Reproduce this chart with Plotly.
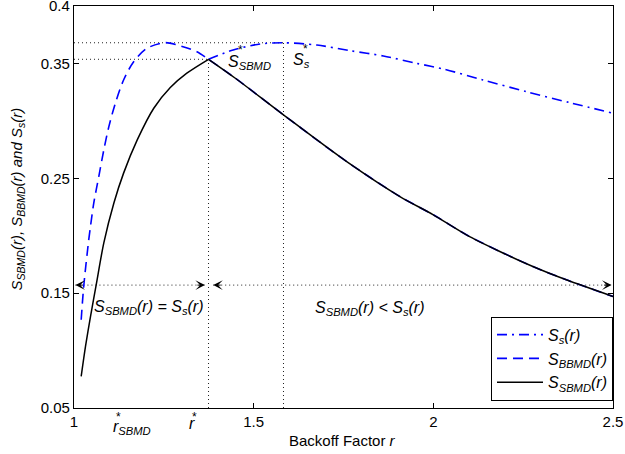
import plotly.graph_objects as go

# ---------------- data ----------------
r_sbmd = [1.020, 1.032, 1.046, 1.0625, 1.083, 1.111, 1.138, 1.176, 1.222, 1.268,
          1.314, 1.3744, 1.45, 1.583, 1.759, 1.907, 2.0, 2.092, 2.185, 2.277, 2.370, 2.5]
s_sbmd = [0.0775, 0.1036, 0.1297, 0.1585, 0.1938, 0.2285, 0.2545, 0.2834, 0.311, 0.3290,
          0.3415, 0.3536, 0.3369, 0.3052, 0.2645, 0.2341, 0.2182, 0.2008, 0.1863, 0.1732, 0.1616, 0.1471]

r_bbmd = [1.020, 1.027, 1.041, 1.0458, 1.055, 1.069, 1.083, 1.097, 1.115, 1.138,
          1.166, 1.203, 1.254, 1.287, 1.342, 1.3744]
s_bbmd = [0.1268, 0.1558, 0.1964, 0.208, 0.2284, 0.2515, 0.2747, 0.295, 0.3153, 0.3356,
          0.3515, 0.3632, 0.3681, 0.3661, 0.3602, 0.3536]

r_ss = [1.3744, 1.443, 1.518, 1.583, 1.676, 1.768, 1.861, 1.953, 2.03, 2.138, 2.259, 2.379, 2.5]
s_ss = [0.3536, 0.3617, 0.3669, 0.368, 0.366, 0.3611, 0.3565, 0.3501, 0.345, 0.3356, 0.3254, 0.3159, 0.3067]

x_ticks = [1, 1.5, 2, 2.5]
x_ticklabels = ["1", "1.5", "2", "2.5"]
y_ticks = [0.05, 0.15, 0.25, 0.35, 0.4]
y_ticklabels = ["0.05", "0.15", "0.25", "0.35", "0.4"]
x_range = [1, 2.5]
y_range = [0.05, 0.4]
arrow_level = 0.157

# derived key points
i_pk = s_sbmd.index(max(s_sbmd))
r_star, s_star = r_sbmd[i_pk], s_sbmd[i_pk]
j_pk = s_ss.index(max(s_ss))
r_ss_star, s_ss_star = r_ss[j_pk], s_ss[j_pk]

# BBMD coincides with SBMD beyond r*
r_bbmd_full = r_bbmd + r_sbmd[i_pk + 1:]
s_bbmd_full = s_bbmd + s_sbmd[i_pk + 1:]

# ---------------- layout geometry ----------------
W, H = 625, 454
L, R, T, B = 73.5, 11.5, 6, 45.7
PW, PH = W - L - R, H - T - B


def px(x):
    return (x - L) / PW


def py(y):
    return (H - B - y) / PH


FONT = "Liberation Sans, Arial, Helvetica, sans-serif"
BLUE = "#0000ff"

fig = go.Figure()
fig.add_trace(go.Scatter(x=r_ss, y=s_ss, mode="lines", name="<i>S<sub>s</sub>(r)</i>",
                         line=dict(color=BLUE, width=1.6, dash="10px,5px,2px,5px", shape="spline", smoothing=0.8),
                         legendgroup="a"))
fig.add_trace(go.Scatter(x=r_bbmd_full, y=s_bbmd_full, mode="lines",
                         name="<i>S<sub>BBMD</sub>(r)</i>",
                         line=dict(color=BLUE, width=1.6, dash="10px,6px", shape="spline", smoothing=0.8),
                         legendgroup="b"))
fig.add_trace(go.Scatter(x=r_sbmd[:i_pk + 1], y=s_sbmd[:i_pk + 1], mode="lines",
                         name="<i>S<sub>SBMD</sub>(r)</i>",
                         line=dict(color="black", width=1.5, shape="spline", smoothing=0.8), legendgroup="c"))
fig.add_trace(go.Scatter(x=r_sbmd[i_pk:], y=s_sbmd[i_pk:], mode="lines",
                         name="<i>S<sub>SBMD</sub>(r)</i>", showlegend=False,
                         line=dict(color="black", width=1.5, shape="spline", smoothing=0.8), legendgroup="c"))

dot = dict(color="#222", width=1, dash="1px,3px")
shapes = [
    dict(type="line", x0=x_range[0], x1=r_ss_star, y0=s_ss_star, y1=s_ss_star, line=dot, layer="below"),
    dict(type="line", x0=x_range[0], x1=r_star, y0=s_star, y1=s_star, line=dot, layer="below"),
    dict(type="line", x0=r_star, x1=r_star, y0=y_range[0], y1=s_star, line=dot, layer="below"),
    dict(type="line", x0=r_ss_star, x1=r_ss_star, y0=y_range[0], y1=s_ss_star, line=dot, layer="below"),
    dict(type="line", x0=1.004, x1=r_star - 0.01, y0=arrow_level, y1=arrow_level, line=dot, layer="below"),
    dict(type="line", x0=r_star + 0.013, x1=2.496, y0=arrow_level, y1=arrow_level, line=dot, layer="below"),
]

ann = []
# arrow heads
for tip, d in [(1.004, 1), (r_star - 0.01, -1), (r_star + 0.013, 1), (2.496, -1)]:
    ann.append(dict(x=tip, y=arrow_level, xref="x", yref="y", ax=9 * d, ay=0, text="",
                    showarrow=True, arrowhead=3, arrowsize=1.6, arrowwidth=1, arrowcolor="black"))

tf = dict(family=FONT, size=16, color="black")
sf = dict(family=FONT, size=12, color="black")


def txt(t, x, y, xa="left", ya="middle", font=tf, angle=0):
    ann.append(dict(text=t, x=px(x), y=py(y), xref="paper", yref="paper", xanchor=xa, yanchor=ya,
                    showarrow=False, font=font, textangle=angle))


txt("<i>S<sub>SBMD</sub></i>", 226, 63)
txt("*", 240, 50, xa="center", font=sf)
txt("<i>S<sub>s</sub></i>", 291, 61)
txt("*", 305, 49, xa="center", font=sf)
txt("<i>S<sub>SBMD</sub>(r) = S<sub>s</sub>(r)</i>", 148, 308, xa="center")
txt("<i>S<sub>SBMD</sub>(r) &lt; S<sub>s</sub>(r)</i>", 370, 309, xa="center")
txt("<i>r<sub>SBMD</sub></i>", 111, 428)
txt("*", 118, 417, xa="center", font=sf)
txt("<i>r</i>", 187, 424)
txt("*", 194, 417, xa="center", font=sf)
txt("Backoff Factor <i>r</i>", 342, 441, xa="center", font=dict(family=FONT, size=15, color="black"))
txt("<i>S<sub>SBMD</sub>(r), S<sub>BBMD</sub>(r) and S<sub>s</sub>(r)</i>", 17, 199, xa="center",
    font=dict(family=FONT, size=15, color="black"), angle=-90)

axis_common = dict(showline=True, linecolor="black", linewidth=1.2, mirror="ticks", ticks="inside",
                   ticklen=5, tickwidth=1, tickcolor="black", showgrid=False, zeroline=False,
                   ticklabeloverflow="allow", automargin=False,
                   tickfont=dict(family=FONT, size=15, color="black"))

fig.update_layout(
    width=W, height=H,
    margin=dict(l=L, r=R, t=T, b=B, pad=0, autoexpand=False),
    paper_bgcolor="white", plot_bgcolor="white",
    xaxis=dict(range=x_range, tickvals=x_ticks, ticktext=x_ticklabels, **axis_common),
    yaxis=dict(range=[y_range[0], y_range[1] + 1e-6], tickvals=y_ticks, ticktext=y_ticklabels,
               **axis_common),
    shapes=shapes, annotations=ann,
    showlegend=True,
    legend=dict(x=1, xanchor="right", y=py(401), yanchor="bottom", bgcolor="white",
                bordercolor="black", borderwidth=1, tracegroupgap=0, itemwidth=46,
                font=dict(family=FONT, size=16, color="black")),
)

fig.write_html("out.html")
